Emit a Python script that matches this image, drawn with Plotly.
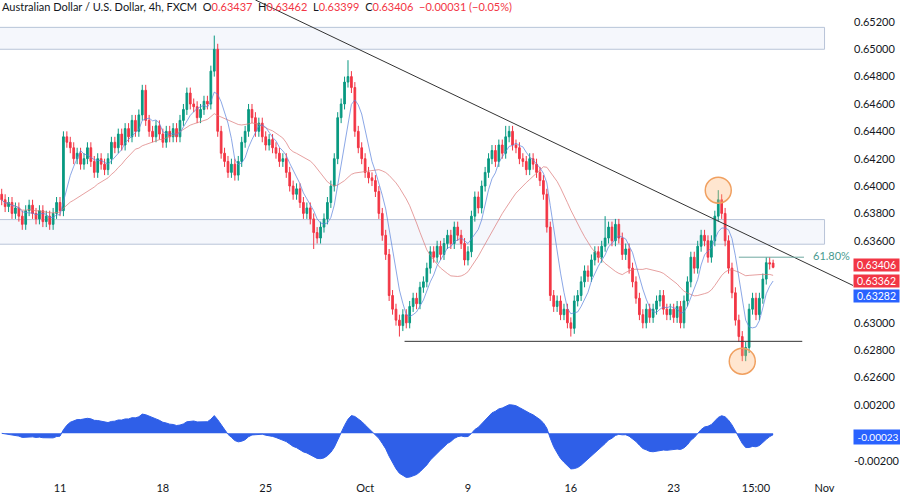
import plotly.graph_objects as go
import pandas as pd
import numpy as np

closes = [
0.6390,0.6385,0.6388,0.6380,0.6384,0.6378,0.6372,0.6382,0.6386,0.6380,
0.6376,0.6382,0.6374,0.6378,0.6372,0.6380,0.6388,0.6382,0.6436,0.6432,
0.6428,0.6420,0.6424,0.6416,0.6420,0.6428,0.6418,0.6410,0.6420,0.6416,
0.6412,0.6420,0.6432,0.6428,0.6438,0.6430,0.6442,0.6436,0.6448,0.6440,
0.6452,0.6470,0.6448,0.6440,0.6436,0.6444,0.6438,0.6432,0.6440,0.6436,
0.6442,0.6436,0.6448,0.6456,0.6468,0.6460,0.6458,0.6450,0.6456,0.6462,
0.6460,0.6484,0.6500,0.6440,0.6424,0.6418,0.6410,0.6416,0.6408,0.6418,
0.6432,0.6440,0.6456,0.6450,0.6440,0.6446,0.6436,0.6430,0.6434,0.6428,
0.6424,0.6418,0.6420,0.6410,0.6400,0.6394,0.6398,0.6388,0.6380,0.6384,
0.6376,0.6366,0.6362,0.6370,0.6376,0.6388,0.6400,0.6420,0.6450,0.6460,
0.6476,0.6480,0.6472,0.6440,0.6428,0.6420,0.6410,0.6406,0.6404,0.6396,
0.6380,0.6364,0.6350,0.6320,0.6310,0.6302,0.6298,0.6306,0.6300,0.6312,
0.6318,0.6314,0.6326,0.6330,0.6340,0.6352,0.6348,0.6356,0.6350,0.6358,
0.6364,0.6358,0.6370,0.6364,0.6358,0.6346,0.6352,0.6378,0.6392,0.6384,
0.6400,0.6410,0.6420,0.6426,0.6418,0.6430,0.6424,0.6436,0.6440,0.6430,
0.6428,0.6420,0.6418,0.6412,0.6420,0.6416,0.6410,0.6404,0.6394,0.6370,
0.6320,0.6312,0.6316,0.6306,0.6310,0.6300,0.6296,0.6316,0.6320,0.6330,
0.6338,0.6334,0.6346,0.6352,0.6348,0.6356,0.6362,0.6370,0.6360,0.6372,
0.6362,0.6350,0.6354,0.6340,0.6330,0.6318,0.6306,0.6300,0.6310,0.6304,
0.6310,0.6316,0.6320,0.6310,0.6306,0.6310,0.6304,0.6312,0.6300,0.6316,
0.6330,0.6348,0.6340,0.6356,0.6364,0.6360,0.6348,0.6360,0.6378,0.6390,
0.6380,0.6360,0.6340,0.6322,0.6302,0.6290,0.6276,0.6282,0.6310,0.6318,
0.6306,0.6318,0.6332,0.6344,0.6343,0.63406]
first_open = 0.6394
wick = 0.0004
extreme_highs = {62: 0.6510, 101: 0.6492, 41: 0.6474, 209: 0.6397, 147: 0.6444, 176: 0.6378, 225: 0.63462}
extreme_lows = {216: 0.6272, 116: 0.6290, 166: 0.6290, 91: 0.6354, 225: 0.63399}

tick_pos = [17, 47, 77, 106, 136, 166, 196, 220, 240]
tick_text = ["11", "18", "25", "Oct", "9", "16", "23", "15:00", "Nov"]
price_ticks = [0.626, 0.628, 0.630, 0.636, 0.638, 0.640, 0.642, 0.644, 0.646, 0.648, 0.650, 0.652]
osc_ticks = [0.002, -0.002]
last_labels = [("0.63406", 0.63406, "#f23645", 2), ("0.63362", 0.63362, "#f23645", -8), ("0.63282", 0.63282, "#2962ff", -12)]

n = len(closes)
idx = np.arange(n)
opens = [first_open] + closes[:-1]
opens[-1] = 0.63437
highs = [max(o, c) + wick for o, c in zip(opens, closes)]
lows = [min(o, c) - wick for o, c in zip(opens, closes)]
for k, v in extreme_highs.items(): highs[k] = v
for k, v in extreme_lows.items(): lows[k] = v

s = pd.Series(closes)
fast = s.rolling(6, min_periods=1).mean()
slow = s.rolling(22, min_periods=1).mean()
osc = s.ewm(span=12, adjust=False).mean() - s.ewm(span=26, adjust=False).mean()

UP, DN = "#089981", "#f23645"
fig = go.Figure()
fig.add_trace(go.Candlestick(x=idx, open=opens, high=highs, low=lows, close=closes,
    increasing=dict(line=dict(color=UP, width=1), fillcolor=UP),
    decreasing=dict(line=dict(color=DN, width=1), fillcolor=DN),
    whiskerwidth=0, xaxis="x", yaxis="y"))
fig.add_trace(go.Scatter(x=idx, y=slow, mode="lines", line=dict(color="rgba(220,120,120,0.7)", width=1), xaxis="x", yaxis="y"))
fig.add_trace(go.Scatter(x=idx, y=fast, mode="lines", line=dict(color="rgba(90,130,220,0.7)", width=1), xaxis="x", yaxis="y"))
fig.add_trace(go.Scatter(x=[209, 216], y=[highs[209], lows[216]], mode="markers",
    marker=dict(size=26, color="rgba(255,183,120,0.35)", line=dict(color="#f0a060", width=1.5)), xaxis="x", yaxis="y"))
fig.add_trace(go.Scatter(x=idx, y=osc, mode="lines", fill="tozeroy", fillcolor="#2f5fe8",
    line=dict(color="#2f5fe8", width=1), xaxis="x", yaxis="y2"))

shapes = [
 dict(type="rect", xref="x", yref="y", x0=-1, x1=240, y0=0.6500, y1=0.6516, fillcolor="rgba(225,232,245,0.35)", line=dict(color="#b8c4d8", width=1), layer="below"),
 dict(type="rect", xref="x", yref="y", x0=-1, x1=240, y0=0.63575, y1=0.63755, fillcolor="rgba(225,232,245,0.35)", line=dict(color="#b8c4d8", width=1), layer="below"),
 dict(type="line", xref="x", yref="y", x0=74, y0=0.6536, x1=249, y1=0.63265, line=dict(color="#333", width=1)),
 dict(type="line", xref="x", yref="y", x0=117.5, y0=0.62865, x1=233.5, y1=0.62865, line=dict(color="#333", width=1)),
 dict(type="line", xref="x", yref="y", x0=215, y0=0.6348, x1=234, y1=0.6348, line=dict(color="#6fa8a0", width=1)),
]
ann = [
 dict(xref="paper", yref="paper", x=0.0, y=1.0, xanchor="left", yanchor="top", showarrow=False, align="left",
      text="Australian Dollar / U.S. Dollar, 4h, FXCM  O<span style='color:#f23645'>0.63437</span>  H<span style='color:#f23645'>0.63462</span>  L<span style='color:#f23645'>0.63399</span>  C<span style='color:#f23645'>0.63406</span>  <span style='color:#f23645'>−0.00031 (−0.05%)</span>",
      font=dict(size=11, color="#131722"), yshift=2),
 dict(xref="x", yref="y", x=236, y=0.6349, xanchor="left", showarrow=False, text="61.80%", font=dict(size=11, color="#4a9a8f")),
]
for t, v, col, ys in last_labels:
    ann.append(dict(xref="paper", yref="y", x=1.0, y=v, xanchor="left", showarrow=False, text=t, yshift=ys,
                    bgcolor=col, font=dict(size=10.5, color="white"), borderpad=0, width=45, height=12))
ann.append(dict(xref="paper", yref="y2", x=1.0, y=-0.00023, xanchor="left", showarrow=False, text="-0.00023",
                bgcolor="#2962ff", font=dict(size=10, color="white"), borderpad=1, width=46))

fig.update_layout(
    width=900, height=500, margin=dict(l=0, r=47, t=0, b=20, autoexpand=False),
    paper_bgcolor="white", plot_bgcolor="white", showlegend=False,
    font=dict(family="Lato, DejaVu Sans", size=11, color="#131722"),
    xaxis=dict(range=[-0.5, 248.3], tickvals=tick_pos, ticktext=tick_text, showgrid=False, zeroline=False,
               rangeslider=dict(visible=False), anchor="y2", ticks="", showline=False, automargin=False),
    yaxis=dict(domain=[0.178, 1], range=[0.62476, 0.6536], side="right", tickvals=price_ticks,
               tickformat=".5f", showgrid=False, zeroline=False, anchor="x", automargin=False, ticks="", ticklen=0),
    yaxis2=dict(domain=[0, 0.17], range=[-0.00333, 0.00249], side="right", tickvals=osc_ticks,
                ticktext=["0.00200", "-0.00200"], showgrid=False, zeroline=False, anchor="x", automargin=False, ticks=""),
    shapes=shapes, annotations=ann,
)
fig.write_html("out.html", config={"displayModeBar": False},
               post_script="document.body.style.margin='0';document.body.style.overflow='hidden';")
